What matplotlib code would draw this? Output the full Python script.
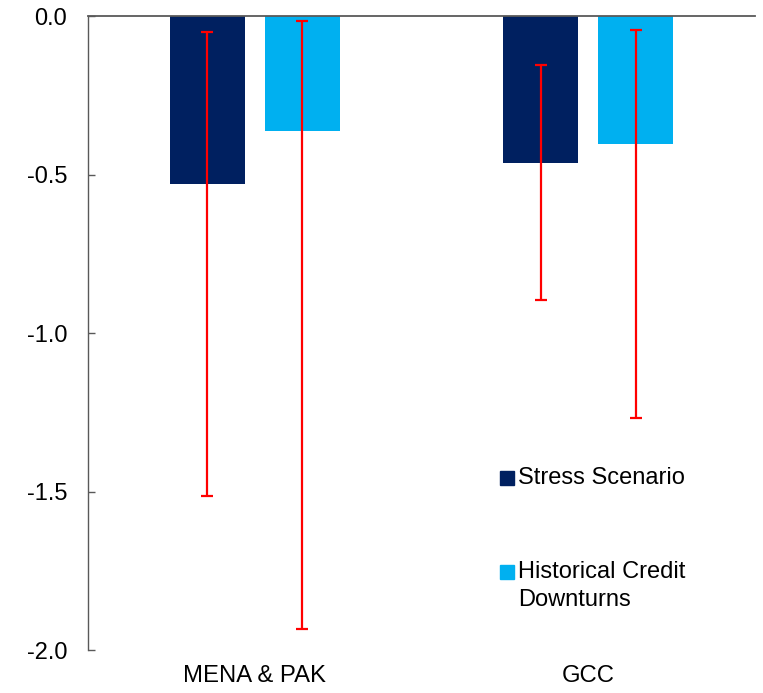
import matplotlib
matplotlib.use("Agg")
import matplotlib.pyplot as plt
import numpy as np

plt.rcParams['font.family'] = ['Liberation Sans', 'DejaVu Sans']

# Data
categories = ["MENA & PAK", "GCC"]
series_names = ["Stress Scenario", "Historical Credit\nDownturns"]
stress_values = [-0.53, -0.465]
historical_values = [-0.363, -0.405]
# Range of outcomes (upper and lower ends) for each bar
stress_high = [-0.052, -0.154]
stress_low = [-1.514, -0.897]
historical_high = [-0.017, -0.045]
historical_low = [-1.935, -1.269]
yticks = [0.0, -0.5, -1.0, -1.5, -2.0]

colors = ["#002060", "#00B0F0"]
err_color = "#FF0000"
axis_color = "#595959"

fig = plt.figure(figsize=(7.63, 6.93), dpi=100)
ax = fig.add_axes([0.1153, 0.0620, 0.8742, 0.9149])

x = np.arange(len(categories))
width = 0.225
offset = 0.143

groups = [
    (stress_values, stress_low, stress_high, -offset, colors[0]),
    (historical_values, historical_low, historical_high, offset, colors[1]),
]
for vals, lows, highs, off, col in groups:
    vals = np.array(vals)
    ax.bar(x + off, vals, width=width, color=col, edgecolor="none", zorder=2)
    yerr = np.vstack([vals - np.array(lows), np.array(highs) - vals])
    ax.errorbar(x + off, vals, yerr=yerr, fmt="none", ecolor=err_color,
                elinewidth=1.6, capsize=4.5, capthick=1.6, zorder=3)

ax.set_xlim(-0.5, 1.5)
ax.set_ylim(-2.0, 0.0)
ax.set_yticks(yticks)
ax.set_yticklabels([f"{v:.1f}" for v in yticks])
ax.set_xticks(x)
ax.set_xticklabels(categories)

ax.tick_params(axis="y", direction="in", length=5, width=1, color=axis_color,
               labelsize=17, pad=15, labelcolor="black")
ax.tick_params(axis="x", length=0, labelsize=17.2, pad=11, labelcolor="black")

for side in ["right", "bottom"]:
    ax.spines[side].set_visible(False)
ax.spines["left"].set_color(axis_color)
ax.spines["left"].set_linewidth(1)
ax.spines["top"].set_color(axis_color)
ax.spines["top"].set_linewidth(1.3)
ax.spines["top"].set_zorder(4)

# Legend drawn as square markers with labels
legend_y = [0.271, 0.123]
text_y = [0.271, 0.101]
for name, col, ym, yt in zip(series_names, colors, legend_y, text_y):
    ax.plot([0.628], [ym], marker="s", markersize=9.5, color=col,
            linestyle="none", transform=ax.transAxes, clip_on=False)
    ax.text(0.645, yt, name, transform=ax.transAxes, fontsize=17,
            ha="left", va="center", linespacing=1.3)

fig.savefig("out.png", dpi=100)
